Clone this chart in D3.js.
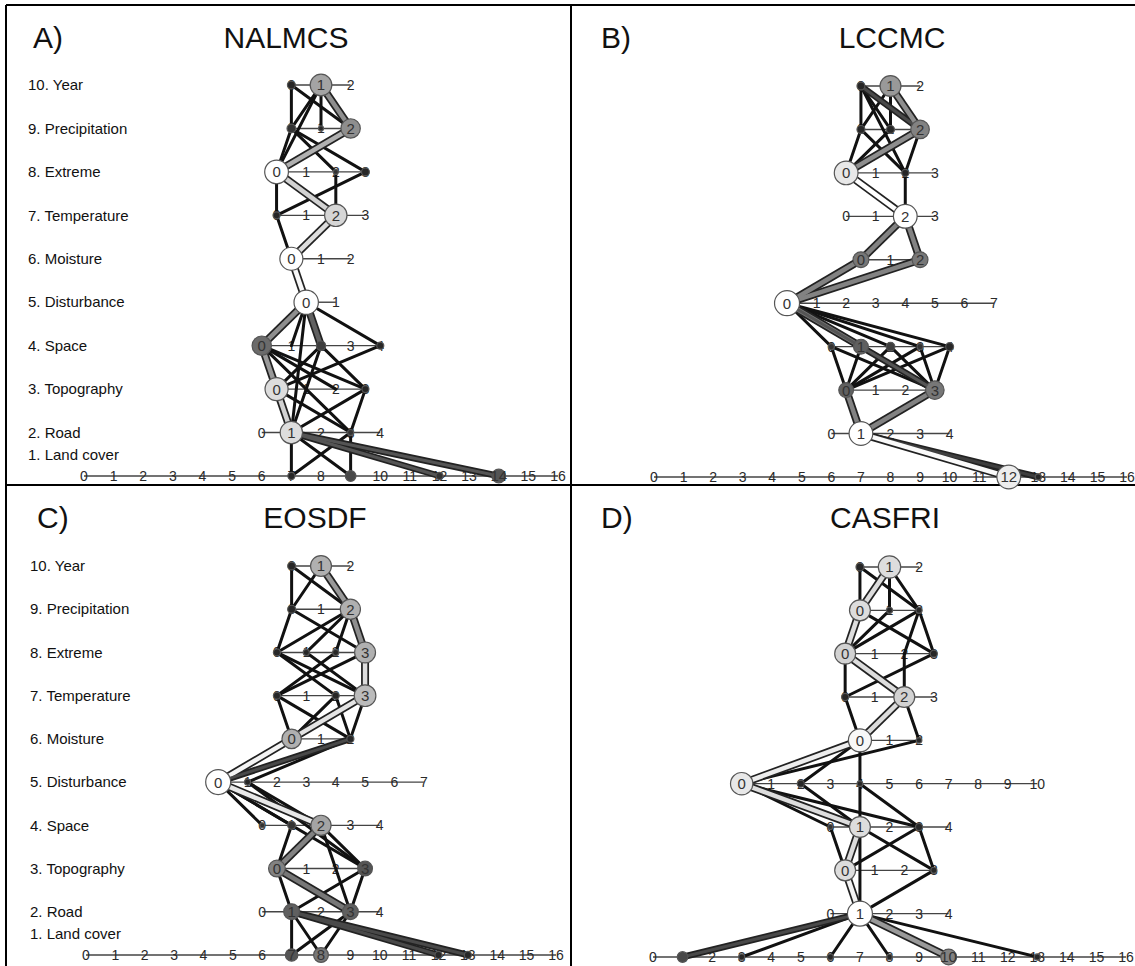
<!DOCTYPE html>
<html><head><meta charset="utf-8">
<script src="https://cdn.jsdelivr.net/npm/d3@7"></script>
<style>body{margin:0;background:#fff} svg{display:block} text{font-family:"Liberation Sans",Arial,sans-serif}</style>
</head><body><svg id="c" width="1135" height="966"></svg>
<script>
// ---------------- data ----------------
const levelNames = ["1. Land cover","2. Road","3. Topography","4. Space","5. Disturbance","6. Moisture","7. Temperature","8. Extreme","9. Precipitation","10. Year"];
const panelTags = ["A)","B)","C)","D)"];
const panelTitles = ["NALMCS","LCCMC","EOSDF","CASFRI"];
// highest category value of each level (index 0 = level 1 "Land cover")
const levelMaxA = [16,4,3,4,1,2,3,3,2,2];
const levelMaxB = [16,4,3,4,7,2,3,3,2,2];
const levelMaxC = [16,4,3,4,7,2,3,3,2,2];
const levelMaxD = [16,4,3,4,10,2,3,3,2,2];
// nodes: [level, value, weight, shade(0 white .. 1 black)]
const nodesA = [[10,0,10,.95],[10,1,75,.4],[9,0,12,.9],[9,1,4,.95],[9,2,60,.5],[8,0,90,0],[8,2,4,.9],[8,3,10,.95],
  [7,0,8,.95],[7,2,80,.18],[6,0,85,0],[5,0,95,0],[4,0,60,.65],[4,2,14,.85],[4,4,8,.95],[3,0,85,.15],[3,3,8,.95],
  [2,1,80,.15],[2,3,6,.9],[1,7,8,.95],[1,9,18,.8],[1,12,8,.9],[1,14,30,.75]];
const nodesB = [[10,0,10,.95],[10,1,70,.45],[9,0,10,.95],[9,1,10,.95],[9,2,55,.55],[8,0,90,.1],[8,2,8,.95],[7,2,90,0],
  [6,0,40,.6],[6,2,40,.6],[5,0,100,0],[4,0,6,.9],[4,1,35,.7],[4,2,12,.85],[4,3,6,.9],[4,4,10,.95],[3,0,35,.7],[3,3,55,.6],
  [2,1,90,0],[1,12,90,.08],[1,13,6,.95]];
const nodesC = [[10,0,10,.95],[10,1,70,.35],[9,0,10,.95],[9,2,65,.35],[8,0,8,.95],[8,1,6,.95],[8,2,6,.95],[8,3,70,.35],
  [7,0,8,.95],[7,2,8,.95],[7,3,75,.3],[6,0,60,.35],[6,2,8,.95],[5,0,100,0],[5,1,6,.95],[4,0,4,.9],[4,1,10,.9],[4,2,65,.4],
  [3,0,45,.55],[3,3,35,.75],[2,1,40,.7],[2,3,40,.7],[1,7,25,.75],[1,8,35,.6],[1,12,8,.95],[1,13,8,.95]];
const nodesD = [[10,0,10,.95],[10,1,80,.15],[9,0,70,.15],[9,1,6,.95],[9,2,6,.95],[8,0,70,.2],[8,3,8,.95],[7,0,8,.95],
  [7,2,70,.2],[6,0,85,.03],[6,2,5,.95],[5,0,80,.1],[5,2,8,.95],[5,4,5,.95],[4,0,4,.9],[4,1,70,.15],[4,3,8,.95],
  [3,0,70,.15],[3,3,6,.95],[2,1,100,0],[1,1,18,.8],[1,3,6,.95],[1,6,6,.95],[1,8,5,.95],[1,10,40,.55],[1,13,6,.95]];
// links: [levelA, valueA, levelB, valueB, shade]; shade null = plain black link
const linksA = [[10,0,9,0,null],[10,0,9,2,null],[10,1,9,0,null],[10,1,9,1,null],[10,1,8,0,null],
  [9,0,8,0,null],[9,0,8,2,null],[9,0,8,3,null],[8,0,7,0,null],[8,2,7,2,null],[8,3,7,0,null],[7,0,6,0,null],
  [5,0,4,1,null],[5,0,4,4,null],[5,0,2,1,null],[4,0,3,3,null],[4,0,3,2,null],[4,0,2,3,null],[4,2,3,0,null],[4,2,3,3,null],
  [4,4,3,0,null],[4,2,2,1,null],[3,0,2,3,null],[3,3,2,1,null],[3,3,2,3,null],
  [2,1,1,7,null],[2,1,1,9,null],[2,3,1,7,null],[2,3,1,9,null],
  [10,1,9,2,.5],[9,2,8,0,.35],[8,0,7,2,.2],[7,2,6,0,.15],[6,0,5,0,.03],[5,0,4,2,.7],[5,0,4,0,.5],[4,0,3,0,.45],
  [3,0,2,1,.2],[2,1,1,12,.75],[2,1,1,14,.75]];
const linksB = [[10,0,9,0,null],[10,0,9,1,null],[10,1,9,0,null],[10,1,9,1,null],[10,0,8,2,null],
  [9,0,8,0,null],[9,0,8,2,null],[9,1,8,0,null],[9,2,8,2,null],[8,2,7,2,null],
  [5,0,4,0,null],[5,0,4,2,null],[5,0,4,3,null],[5,0,4,4,null],
  [4,0,3,0,null],[4,0,3,3,null],[4,1,3,0,null],[4,1,3,3,null],[4,2,3,0,null],[4,2,3,3,null],[4,3,3,0,null],[4,3,3,3,null],
  [4,4,3,0,null],[4,4,3,3,null],
  [10,0,9,2,.8],[10,1,9,2,.5],[9,2,8,0,.5],[8,0,7,2,0],[7,2,6,0,.55],[7,2,6,2,.55],[6,0,5,0,.55],[6,2,5,0,.55],
  [5,0,4,1,.6],[5,0,3,3,.75],[3,0,2,1,.55],[3,3,2,1,.55],[2,1,1,13,.85],[2,1,1,12,.02]];
const linksC = [[10,0,9,0,null],[10,0,9,2,null],[10,1,9,0,null],
  [9,0,8,0,null],[9,0,8,3,null],[9,2,8,0,null],[9,2,8,1,null],[9,2,8,2,null],
  [8,0,7,2,null],[8,1,7,3,null],[8,2,7,0,null],[8,3,7,0,null],[8,0,7,3,null],
  [7,0,6,0,null],[7,0,6,2,null],[7,2,6,0,null],[7,2,6,2,null],[7,3,6,2,null],
  [6,2,5,1,null],[5,0,4,0,null],[5,0,4,1,null],[5,1,4,2,null],[5,1,3,3,null],[5,0,3,3,null],
  [4,1,3,0,null],[4,2,3,3,null],[4,2,2,3,null],[3,0,2,1,null],[3,3,2,1,null],[3,3,2,3,null],
  [2,1,1,7,null],[2,1,1,8,null],[2,3,1,7,null],[2,3,1,8,null],
  [10,1,9,2,.45],[9,2,8,3,.5],[8,3,7,3,.15],[7,3,6,0,.12],[6,0,5,0,.05],[6,2,5,0,.8],[5,0,4,2,.1],
  [4,2,3,0,.55],[3,0,2,3,.6],[2,1,1,12,.8],[2,1,1,13,.8]];
const linksD = [[10,0,9,0,null],[10,0,9,2,null],[10,1,9,1,null],[10,1,9,2,null],
  [9,0,8,3,null],[9,1,8,0,null],[9,2,8,0,null],[9,2,8,2,null],[9,2,8,3,null],
  [8,0,7,0,null],[8,2,7,2,null],[8,3,7,0,null],[7,0,6,0,null],[7,2,6,2,null],
  [6,0,5,4,null],[6,2,5,0,null],[6,0,5,2,null],[5,2,4,1,null],
  [5,0,4,0,null],[5,0,4,3,null],[5,4,4,1,null],[5,4,4,3,null],
  [4,0,3,0,null],[4,1,3,3,null],[4,3,3,0,null],[4,3,3,3,null],[3,3,2,1,null],[4,1,2,1,null],
  [2,1,1,3,null],[2,1,1,6,null],[2,1,1,8,null],[2,1,1,13,null],
  [10,1,9,0,.15],[9,0,8,0,.15],[8,0,7,2,.15],[7,2,6,0,.15],[6,0,5,0,.08],[5,0,4,1,.15],[4,1,3,0,.15],
  [3,0,2,1,.05],[2,1,1,10,.45],[2,1,1,1,.8]];

const panelData = [
  {max: levelMaxA, nodes: nodesA, links: linksA},
  {max: levelMaxB, nodes: nodesB, links: linksB},
  {max: levelMaxC, nodes: nodesC, links: linksC},
  {max: levelMaxD, nodes: nodesD, links: linksD}
];
// ---------------- layout ----------------
const frames = [
  {xr:[84,558], yr:[85,476], labels:true, labelX:28, tagX:33, tagY:48, titleX:286, titleY:48},
  {xr:[654,1127], yr:[86,477], labels:false, tagX:601, tagY:48, titleX:892, titleY:48},
  {xr:[86,556], yr:[566,955], labels:true, labelX:30, tagX:37, tagY:528, titleX:315, titleY:528},
  {xr:[653,1126], yr:[567,957], labels:false, tagX:601, tagY:528, titleX:885, titleY:528}
];
const svg = d3.select("#c");
const shadeCol = d3.scaleLinear().domain([0,1]).range(["#ffffff","#1c1c1c"]);
const rScale = d3.scaleSqrt().domain([0,100]).range([0,12.5]);

// borders
const bord = svg.append("g").attr("stroke","#000").attr("stroke-width",2);
bord.append("line").attr("x1",6).attr("y1",5).attr("x2",1135).attr("y2",5);
bord.append("line").attr("x1",6).attr("y1",5).attr("x2",6).attr("y2",966);
bord.append("line").attr("x1",571).attr("y1",5).attr("x2",571).attr("y2",966);
bord.append("line").attr("x1",6).attr("y1",485).attr("x2",1135).attr("y2",485);

panelData.forEach((pd, i) => {
  const f = frames[i];
  const g = svg.append("g");
  const x = d3.scaleLinear().domain([0,16]).range(f.xr);
  const y = d3.scaleLinear().domain([10,1]).range(f.yr);
  const px = (l, v) => x(8 - pd.max[l-1]/2 + v);
  // title
  g.append("text").attr("x",f.tagX).attr("y",f.tagY).attr("font-size",30).attr("fill","#111").text(panelTags[i]);
  g.append("text").attr("x",f.titleX).attr("y",f.titleY).attr("font-size",30).attr("fill","#111")
    .attr("text-anchor","middle").text(panelTitles[i]);
  // level labels
  if (f.labels) {
    levelNames.forEach((nm, k) => {
      const l = k + 1;
      const yy = l === 1 ? (y(1) + y(2)) / 2 : y(l);
      g.append("text").attr("x",f.labelX).attr("y",yy).attr("dy","0.35em").attr("font-size",15).attr("fill","#111").text(nm);
    });
  }
  // rows
  pd.max.forEach((m, k) => {
    const l = k + 1;
    g.append("line").attr("x1",px(l,0)).attr("x2",px(l,m)).attr("y1",y(l)).attr("y2",y(l))
      .attr("stroke","#444").attr("stroke-width",1.4);
    g.selectAll(null).data(d3.range(m+1)).join("text")
      .attr("x",v=>px(l,v)).attr("y",y(l)).attr("dy","0.36em").attr("text-anchor","middle")
      .attr("font-size",14).attr("fill","#2a2a2a").text(v=>v);
  });
  // links
  const plain = pd.links.filter(d=>d[4]===null);
  const hl = pd.links.filter(d=>d[4]!==null);
  g.selectAll(null).data(plain).join("line")
    .attr("x1",d=>px(d[0],d[1])).attr("y1",d=>y(d[0])).attr("x2",d=>px(d[2],d[3])).attr("y2",d=>y(d[2]))
    .attr("stroke","#111").attr("stroke-width",3).attr("stroke-linecap","round");
  g.selectAll(null).data(hl).join("line")
    .attr("x1",d=>px(d[0],d[1])).attr("y1",d=>y(d[0])).attr("x2",d=>px(d[2],d[3])).attr("y2",d=>y(d[2]))
    .attr("stroke","#222").attr("stroke-width",d=>d[4]>0.7?6.5:8);
  g.selectAll(null).data(hl).join("line")
    .attr("x1",d=>px(d[0],d[1])).attr("y1",d=>y(d[0])).attr("x2",d=>px(d[2],d[3])).attr("y2",d=>y(d[2]))
    .attr("stroke",d=>shadeCol(d[4])).attr("stroke-width",d=>d[4]>0.7?3:4.5);
  // nodes
  g.selectAll(null).data(pd.nodes).join("circle")
    .attr("cx",d=>px(d[0],d[1])).attr("cy",d=>y(d[0])).attr("r",d=>rScale(d[2]))
    .attr("fill",d=>shadeCol(d[3])).attr("stroke","#555").attr("stroke-width",1.2);
  g.selectAll(null).data(pd.nodes.filter(d=>rScale(d[2])>6)).join("text")
    .attr("x",d=>px(d[0],d[1])).attr("y",d=>y(d[0])).attr("dy","0.36em").attr("text-anchor","middle")
    .attr("font-size",15).attr("fill","#333").text(d=>d[1]);
});
</script></body></html>
